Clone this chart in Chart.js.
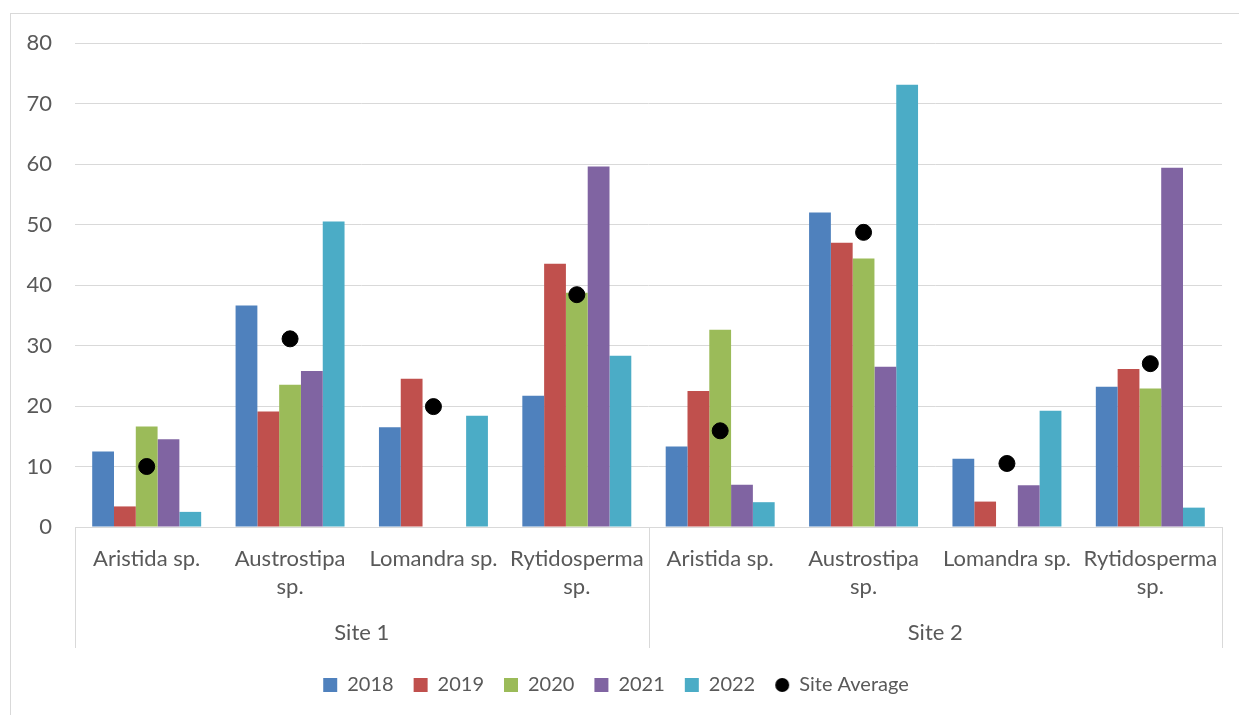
<!DOCTYPE html>
<html>
<head>
<meta charset="utf-8">
<script src="https://cdn.jsdelivr.net/npm/chart.js@4"></script>
<style>
  body { margin: 0; background: #fff; overflow: hidden; }
  .frame { position: absolute; left: 10px; top: 13px; width: 1300px; height: 800px; border: 1px solid #d9d9d9; }
  .wrap { position: absolute; left: 0; top: 0; width: 1239px; height: 715px; }
</style>
</head>
<body>
<div class="frame"></div>
<div class="wrap"><canvas id="chart"></canvas></div>
<script>
// species per site, two sites side by side
const species = [
    ['Aristida sp.'], ['Austrostipa', 'sp.'], ['Lomandra sp.'], ['Rytidosperma', 'sp.'],
    ['Aristida sp.'], ['Austrostipa', 'sp.'], ['Lomandra sp.'], ['Rytidosperma', 'sp.']
];
const sites = ['Site 1', 'Site 2'];
const years = ['2018', '2019', '2020', '2021', '2022'];

const v2018 = [12.5, 36.6, 16.5, 21.7, 13.3, 52.0, 11.3, 23.2];
const v2019 = [3.4, 19.1, 24.5, 43.5, 22.5, 47.0, 4.2, 26.1];
const v2020 = [16.6, 23.5, 0, 38.7, 32.6, 44.4, 0, 22.9];
const v2021 = [14.5, 25.8, 0, 59.6, 7.0, 26.5, 6.9, 59.4];
const v2022 = [2.5, 50.5, 18.4, 28.3, 4.1, 73.1, 19.2, 3.2];
const siteAverage = [10.0, 31.1, 19.9, 38.4, 15.9, 48.7, 10.5, 27.0];

const yTicks = [0, 10, 20, 30, 40, 50, 60, 70, 80];

const colors = ['#4F81BD', '#C0504D', '#9BBB59', '#8064A2', '#4BACC6'];
const textColor = '#595959';
const gridColor = '#d9d9d9';
const font = { family: 'Lato', size: 22, lineHeight: 1.27 };
const legendFont = { family: 'Lato', size: 20 };

// small circle for the legend entry
const dot = document.createElement('canvas');
dot.width = 16; dot.height = 16;
const dctx = dot.getContext('2d');
dctx.fillStyle = '#000';
dctx.beginPath(); dctx.arc(8, 8, 7, 0, Math.PI * 2); dctx.fill();

// site separators below the plot area
const separators = {
    id: 'separators',
    afterDraw(chart) {
        const x = chart.scales.x, ctx = chart.ctx;
        const top = chart.chartArea.bottom, bottom = top + 121;
        ctx.save();
        ctx.strokeStyle = gridColor;
        ctx.lineWidth = 1;
        [x.left, (x.left + x.right) / 2, x.right].forEach(px => {
            ctx.beginPath();
            ctx.moveTo(Math.round(px) + 0.5, top);
            ctx.lineTo(Math.round(px) + 0.5, bottom);
            ctx.stroke();
        });
        ctx.restore();
    }
};

const series = [v2018, v2019, v2020, v2021, v2022];
const datasets = series.map((data, i) => ({
    type: 'bar',
    label: years[i],
    data: data,
    backgroundColor: colors[i],
    borderWidth: 0,
    pointStyle: 'rect',
    order: 1
}));
datasets.push({
    type: 'line',
    label: 'Site Average',
    data: siteAverage,
    showLine: false,
    pointRadius: 8,
    pointHoverRadius: 8,
    pointBackgroundColor: '#000',
    pointBorderColor: '#000',
    backgroundColor: '#000',
    borderColor: '#000',
    pointStyle: 'circle',
    order: 0
});

new Chart(document.getElementById('chart'), {
    data: { labels: species, datasets: datasets },
    options: {
        responsive: true,
        maintainAspectRatio: false,
        animation: false,
        layout: { padding: { top: 43, right: 17, bottom: 10, left: 10 } },
        datasets: { bar: { categoryPercentage: 0.76, barPercentage: 1 } },
        plugins: {
            tooltip: { enabled: false },
            legend: {
                position: 'bottom',
                labels: {
                    color: textColor,
                    font: legendFont,
                    usePointStyle: true,
                    boxWidth: 14,
                    boxHeight: 14,
                    padding: 20,
                    sort: (a, b) => a.datasetIndex - b.datasetIndex,
                    generateLabels(chart) {
                        const items = Chart.defaults.plugins.legend.labels.generateLabels(chart);
                        items.forEach(it => { if (it.text === 'Site Average') it.pointStyle = dot; });
                        return items;
                    }
                }
            }
        },
        scales: {
            x: {
                grid: { display: false, drawTicks: false },
                border: { display: true, color: gridColor },
                ticks: { color: textColor, font: font, padding: 18, maxRotation: 0, autoSkip: false },
                afterFit(scale) { scale.height = 80; }
            },
            x2: {
                type: 'category',
                labels: sites,
                position: 'bottom',
                offset: true,
                grid: { display: false, drawTicks: false },
                border: { display: false },
                ticks: { color: textColor, font: font, padding: 12, maxRotation: 0 },
                afterFit(scale) { scale.height = 48; }
            },
            y: {
                min: 0,
                max: 80,
                afterBuildTicks(scale) { scale.ticks = yTicks.map(v => ({ value: v })); },
                grid: { color: gridColor, drawTicks: false },
                border: { display: false },
                ticks: { color: textColor, font: font, padding: 23 },
                afterFit(scale) { scale.width = 65; }
            }
        }
    },
    plugins: [separators]
});
</script>
</body>
</html>
